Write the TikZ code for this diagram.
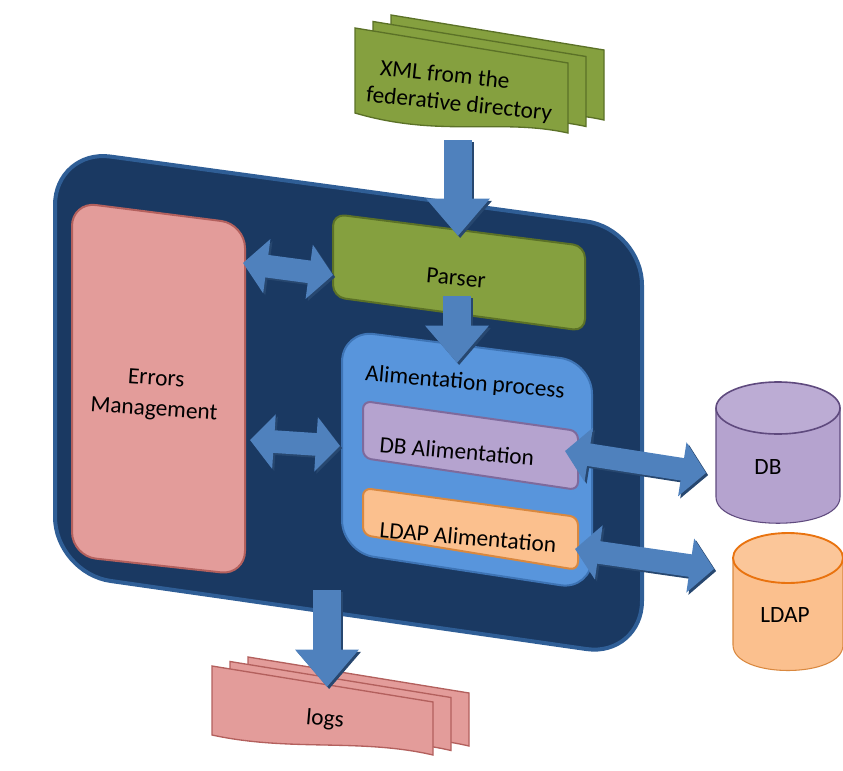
\documentclass[tikz,border=0pt]{standalone}
\usepackage{fontspec}
\setmainfont{Carlito}
\usetikzlibrary{arrows.meta}
\definecolor{mainblue}{HTML}{1A3962}
\definecolor{mainedge}{HTML}{2F5E96}
\definecolor{errpink}{HTML}{E39C9A}
\definecolor{erredge}{HTML}{B3605D}
\definecolor{pargreen}{HTML}{85A03F}
\definecolor{paredge}{HTML}{5B7127}
\definecolor{alimblue}{HTML}{5895DC}
\definecolor{alimedge}{HTML}{3E74B5}
\definecolor{lav}{HTML}{B5A3CF}
\definecolor{lavedge}{HTML}{7E6A9C}
\definecolor{peach}{HTML}{FBC08E}
\definecolor{peachedge}{HTML}{D9883F}
\definecolor{cylorange}{HTML}{E9730F}
\definecolor{cylpurple}{HTML}{5F4A7E}
\definecolor{arrowblue}{HTML}{4F81BD}
\definecolor{arrowdark}{HTML}{27476F}
\begin{document}
\begin{tikzpicture}[x=0.75pt,y=-0.75pt,
  lbl/.style={font=\fontsize{17.5}{23}\selectfont, align=center, inner sep=0pt},
  fatarrow/.style={draw=arrowblue, line width=21pt, -{Triangle[length=28pt,width=46pt]}},
  fatdouble/.style={draw=arrowblue, line width=17pt, {Triangle[length=18pt,width=40pt]}-{Triangle[length=18pt,width=40pt]}},
  arrshade/.style={draw=arrowdark, transform canvas={xshift=1.6pt,yshift=-1.6pt}},
  docxml/.style={fill=pargreen, draw=paredge, line width=1pt},
  doclog/.style={fill=errpink, draw=erredge, line width=1pt},
]
\useasboundingbox (0,0) rectangle (843,771);

% main container
\draw[fill=mainblue, draw=mainedge, line width=3pt, rounded corners=42pt]
  (55,149) -- (642,229) -- (642,657) -- (55,573) -- cycle;

% errors management
\draw[fill=errpink, draw=erredge, line width=1.5pt, rounded corners=18pt]
  (72,202) -- (245,224) -- (245,575) -- (72,556) -- cycle;
\node[lbl, rotate=-4] (errt) at (155,395) {Errors\\Management};

% parser
\draw[fill=pargreen, draw=paredge, line width=1.5pt, rounded corners=9pt]
  (333,214) -- (585,246) -- (585,331) -- (333,297) -- cycle;
\node[lbl, rotate=-5] (part) at (456,278) {Parser};

% alimentation process
\draw[fill=alimblue, draw=alimedge, line width=1.5pt, rounded corners=24pt]
  (342,330) -- (592,362) -- (592,590) -- (342,552) -- cycle;
\node[lbl, rotate=-5] (alimt) at (465,383) {Alimentation process};

% DB alimentation
\draw[fill=lav, draw=lavedge, line width=1.5pt, rounded corners=6pt]
  (363,401) -- (578,431) -- (578,490) -- (363,458) -- cycle;
\node[lbl, rotate=-5] (dbat) at (457,451) {DB Alimentation};

% LDAP alimentation
\draw[fill=peach, draw=peachedge, line width=1.5pt, rounded corners=6pt]
  (363,488) -- (578,517) -- (578,570) -- (363,535) -- cycle;
\node[lbl, rotate=-5] (ldat) at (468,537) {LDAP Alimentation};

% DB cylinder
\fill[lav] (716,408) -- (716,497) .. controls (716,532) and (840,532) .. (840,497) -- (840,408) -- cycle;
\draw[draw=cylpurple, line width=0.8pt] (716,408) -- (716,497) .. controls (716,532) and (840,532) .. (840,497) -- (840,408);
\draw[fill=lav!90!white, draw=cylpurple, line width=1.2pt] (778,408) ellipse [x radius=62, y radius=26];
\node[lbl] (dbt) at (768,467) {DB};

% LDAP cylinder
\fill[peach] (733,558) -- (733,645) .. controls (733,679) and (843,679) .. (843,645) -- (843,558) -- cycle;
\draw[draw=peachedge, line width=0.8pt] (733,558) -- (733,645) .. controls (733,679) and (843,679) .. (843,645) -- (843,558);
\draw[fill=peach!90!white, draw=cylorange, line width=1.4pt] (788,558) ellipse [x radius=55, y radius=25];
\node[lbl] (ldapt) at (785,615) {LDAP};

% XML document stack
\foreach \dx/\dy in {36/-13, 18/-6.5, 0/0} {
  \begin{scope}[shift={(\dx,\dy)}]
    \draw[docxml] (355,28) -- (568,63) -- (568,133)
      .. controls (500,118) and (440,138) .. (355,113) -- cycle;
  \end{scope}
}
\node[lbl, rotate=-6] (xmlt1) at (445,74) {XML from the};
\node[lbl, rotate=-6] (xmlt2) at (459,105) {federative directory};

% logs document stack
\foreach \dx/\dy in {36/-9, 18/-4.5, 0/0} {
  \begin{scope}[shift={(\dx,\dy)}]
    \draw[doclog] (212,666) -- (433,702) -- (433,755)
      .. controls (360,738) and (290,752) .. (212,735) -- cycle;
  \end{scope}
}
\node[lbl, rotate=-5] (logst) at (325,720) {logs};

% connector end points
\coordinate (xmlout) at (458,140);
\coordinate (parin) at (458,236);
\coordinate (parout) at (457,296);
\coordinate (alimin) at (457,363);
\coordinate (errr1) at (243,263);
\coordinate (parl) at (333,275);
\coordinate (errr2) at (250,440);
\coordinate (aliml) at (340,446);
\coordinate (dbar) at (565,451);
\coordinate (dbl) at (706,473);
\coordinate (ldar) at (575,549);
\coordinate (ldl) at (714,569);
\coordinate (mainb) at (327,590);
\coordinate (logsin) at (327,687);

% arrows: shadows
\draw[fatarrow, arrshade] (xmlout) -- (parin);
\draw[fatarrow, arrshade] (parout) -- (alimin);
\draw[fatarrow, arrshade] (mainb) -- (logsin);
\draw[fatdouble, arrshade] (errr1) -- (parl);
\draw[fatdouble, arrshade] (errr2) -- (aliml);
\draw[fatdouble, arrshade] (dbar) -- (dbl);
\draw[fatdouble, arrshade] (ldar) -- (ldl);
% arrows
\draw[fatarrow] (xmlout) -- (parin);
\draw[fatarrow] (parout) -- (alimin);
\draw[fatarrow] (mainb) -- (logsin);
\draw[fatdouble] (errr1) -- (parl);
\draw[fatdouble] (errr2) -- (aliml);
\draw[fatdouble] (dbar) -- (dbl);
\draw[fatdouble] (ldar) -- (ldl);
\end{tikzpicture}
\end{document}
